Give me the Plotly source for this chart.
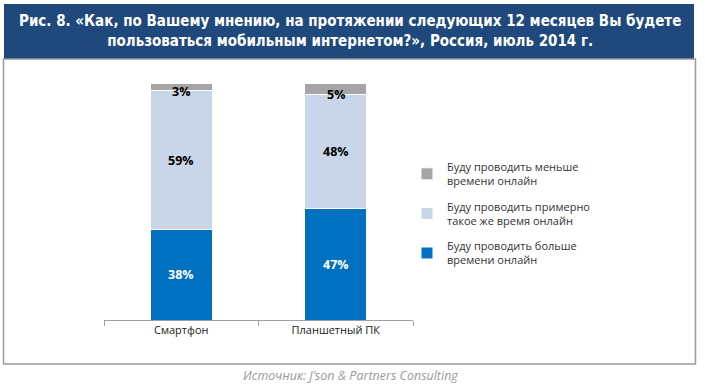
import plotly.graph_objects as go
import numpy as np

categories = ["Смартфон", "Планшетный ПК"]
series_names = [
    "Буду проводить больше<br>времени онлайн",
    "Буду проводить примерно<br>такое же время онлайн",
    "Буду проводить меньше<br>времени онлайн",
]
more = [38, 47]
same = [59, 48]
less = [3, 5]
series_values = [more, same, less]
colors = ["#0070C0", "#C9D5E8", "#A5A5A5"]
label_colors = ["white", "black", "black"]

title_text = ("Рис. 8. «Как, по Вашему мнению, на протяжении следующих 12 месяцев Вы будете<br>"
              "пользоваться мобильным интернетом?», Россия, июль 2014 г.")
source_text = "Источник: J’son & Partners Consulting"

W, H = 705, 387
fig = go.Figure()

for i, (name, vals) in enumerate(zip(series_names, series_values)):
    fig.add_trace(go.Bar(
        x=categories, y=vals, name=name,
        marker=dict(color=colors[i], line=dict(color="white", width=1)),
        width=0.4, legendgroup=f"g{i}", legendrank=1000 - i, hoverinfo="skip",
    ))

# segment labels
cum = np.zeros(len(categories))
for i, vals in enumerate(series_values):
    v = np.array(vals, dtype=float)
    mid = cum + v / 2
    for j, c in enumerate(categories):
        yy = mid[j]
        if v[j] < 8:
            yy = cum[j] + v[j] / 2 - 2.2
        fig.add_annotation(x=c, y=yy, text=f"<b>{int(v[j])}%</b>", showarrow=False,
                           font=dict(size=12.5, color=label_colors[i], family="Open Sans"),
                           xref="x", yref="y")
    cum += v

# header box
fig.add_shape(type="rect", xref="paper", yref="paper",
              x0=4/W, x1=694/W, y0=1-59/H, y1=1-4/H,
              fillcolor="#1F497D", line=dict(color="#1F497D", width=0), layer="below")
# frame
fig.add_shape(type="rect", xref="paper", yref="paper",
              x0=3.5/W, x1=695.5/W, y0=1-364/H, y1=1-59/H,
              fillcolor="rgba(0,0,0,0)", line=dict(color="#9A9A9A", width=1.5), layer="below")

fig.add_annotation(xref="paper", yref="paper", x=350/W, y=1-31/H, text=f"<b>{title_text}</b>",
                   showarrow=False, xanchor="center", yanchor="middle", align="center",
                   font=dict(size=15, color="white", family="DejaVu Sans Condensed"))
fig.add_annotation(xref="paper", yref="paper", x=350/W, y=1-375/H, text=f"<i>{source_text}</i>",
                   showarrow=False, xanchor="center", yanchor="middle",
                   font=dict(size=12.5, color="#9A9A9A", family="Open Sans"))

fig.update_layout(
    width=W, height=H, barmode="stack", bargap=0.6,
    margin=dict(l=0, r=0, t=0, b=0),
    paper_bgcolor="white", plot_bgcolor="white",
    showlegend=True,
    legend=dict(x=407/W, y=1-153/H, xanchor="left", yanchor="top",
                traceorder="grouped", tracegroupgap=8,
                font=dict(size=11, color="#333333", family="Open Sans"),
                bgcolor="rgba(0,0,0,0)", itemclick=False),
    xaxis=dict(domain=[104/W, 413/W], range=[-0.5, 1.5], type="category",
               showline=True, linecolor="#A0A0A0", linewidth=1,
               ticks="outside", tickson="boundaries", ticklen=5, tickcolor="#A0A0A0",
               tickfont=dict(size=11, color="#222222", family="Open Sans"),
               showgrid=False, zeroline=False, fixedrange=True),
    yaxis=dict(domain=[1-320/H, 1-83/H], range=[0, 100], visible=False,
               showgrid=False, zeroline=False, fixedrange=True),
)

fig.write_html("out.html", config={"displayModeBar": False, "staticPlot": True},
               post_script="document.body.style.margin='0';document.body.style.overflow='hidden';")
